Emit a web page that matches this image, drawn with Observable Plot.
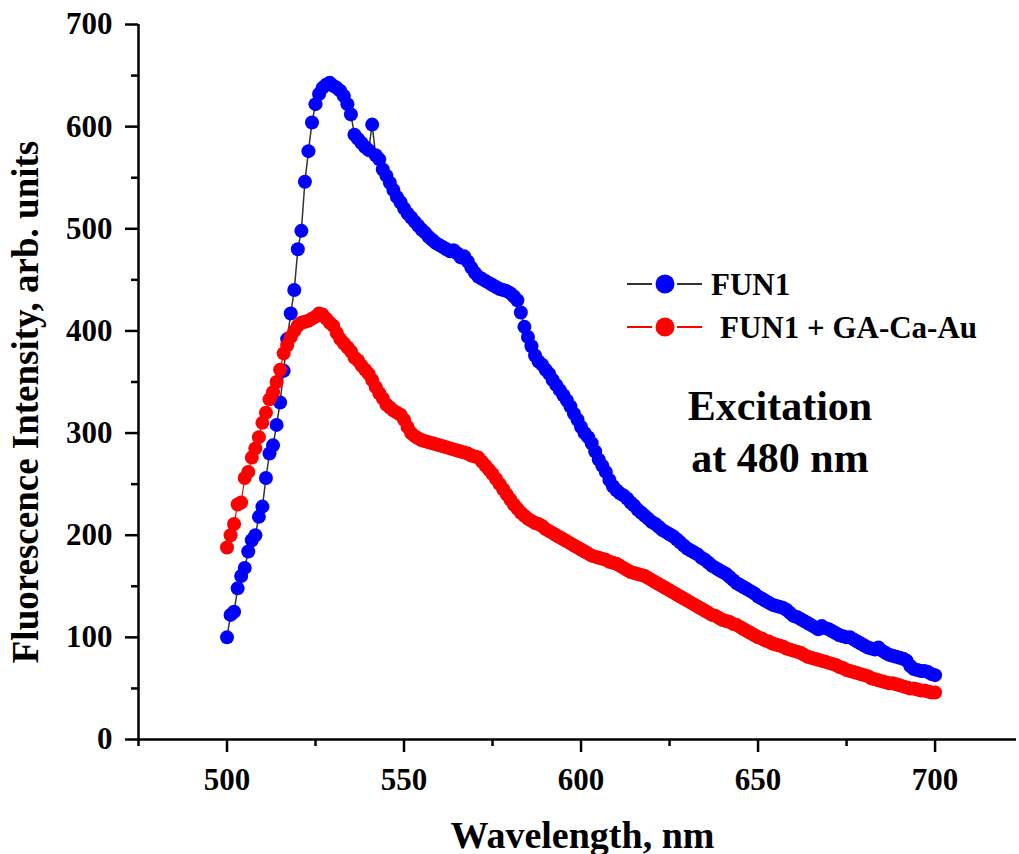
<!DOCTYPE html>
<html>
<head>
<meta charset="utf-8">
<script src="https://cdn.jsdelivr.net/npm/d3@7"></script>
<script src="https://cdn.jsdelivr.net/npm/@observablehq/plot@0.6"></script>
<style>
  html, body { margin: 0; padding: 0; background: #fff; }
  #wrap { position: relative; width: 1019px; height: 854px; overflow: hidden; }
  #wrap svg.overlay { position: absolute; left: 0; top: 0; pointer-events: none; }
  text { font-family: "Liberation Serif", "Times New Roman", serif; font-weight: bold; }
</style>
</head>
<body>
<div id="wrap"></div>
<script>
// ---- data ----
const wavelength = [
  500,501,502,503,504,505,506,507,508,509,
  510,511,512,513,514,515,516,517,518,519,
  520,521,522,523,524,525,526,527,528,529,
  530,531,532,533,534,535,536,537,538,539,
  540,541,542,543,544,545,546,547,548,549,
  550,551,552,553,554,555,556,557,558,559,
  560,561,562,563,564,565,566,567,568,569,
  570,571,572,573,574,575,576,577,578,579,
  580,581,582,583,584,585,586,587,588,589,
  590,591,592,593,594,595,596,597,598,599,
  600,601,602,603,604,605,606,607,608,609,
  610,611,612,613,614,615,616,617,618,619,
  620,621,622,623,624,625,626,627,628,629,
  630,631,632,633,634,635,636,637,638,639,
  640,641,642,643,644,645,646,647,648,649,
  650,651,652,653,654,655,656,657,658,659,
  660,661,662,663,664,665,666,667,668,669,
  670,671,672,673,674,675,676,677,678,679,
  680,681,682,683,684,685,686,687,688,689,
  690,691,692,693,694,695,696,697,698,699,
  700
];
const fun1 = [
  100,122,125,148,160,168,184,195,200,218,
  228,256,280,288,308,330,361,392,417,440,
  480,498,546,576,604,622,632,638,641,643,
  640,638,635,630,622,612,592,588,584,580,
  577,602,572,568,558,552,545,538,531,526,
  520,515,511,507,503,499,496,492,489,486,
  484,482,480,478,479,476,472,473,468,462,
  457,453,451,449,447,445,443,441,440,439,
  437,434,430,418,404,394,385,376,370,367,
  362,358,352,347,342,337,332,326,319,313,
  306,300,296,290,282,274,268,262,254,248,
  244,241,239,236,232,229,225,222,219,216,
  213,211,208,205,203,201,199,196,193,190,
  187,185,183,181,178,176,173,170,168,166,
  164,162,159,156,153,151,149,147,145,143,
  140,138,136,134,132,131,130,129,127,124,
  121,120,118,116,114,112,110,108,111,109,
  108,106,104,102,101,100,100,98,96,94,
  92,90,89,88,90,87,85,83,82,81,
  80,79,77,72,69,68,67,67,66,64,
  63
];
const fun1GaCaAu = [
  188,200,211,230,232,256,262,276,285,296,
  310,320,333,340,350,362,378,386,394,400,
  405,408,409,410,412,414,417,416,412,408,
  405,398,392,388,384,380,374,371,366,362,
  358,352,345,339,334,328,325,322,320,318,
  313,306,300,297,295,293,292,291,290,289,
  288,287,286,285,284,283,282,281,280,278,
  277,276,272,268,264,260,255,250,245,240,
  235,230,226,222,219,216,214,212,211,209,
  206,204,202,200,198,196,194,192,190,188,
  186,184,182,180,179,178,177,176,174,173,
  172,170,168,166,164,163,162,161,160,158,
  156,154,152,150,148,146,144,142,140,138,
  136,134,132,130,128,126,124,122,121,119,
  117,116,115,113,112,110,108,106,104,102,
  100,99,97,96,94,93,92,91,89,88,
  87,86,85,83,81,80,79,78,77,76,
  75,74,73,71,70,68,67,66,65,64,
  63,62,60,59,58,57,56,55,55,54,
  53,52,51,50,50,49,48,48,47,46,
  46
];
const seriesNames = ["FUN1", "FUN1 + GA-Ca-Au"];
const seriesColors = ["#0000ff", "#ff0000"];
const lineColors = ["#333333", "#ff0000"];
const xMajorTicks = [500, 550, 600, 650, 700];
const xMinorTicks = [475, 525, 575, 625, 675];
const yMajorTicks = [0, 100, 200, 300, 400, 500, 600, 700];
const yMinorTicks = [50, 150, 250, 350, 450, 550, 650];
const xDomain = [475, 723];
const yDomain = [0, 700];
const xTitle = "Wavelength, nm";
const yTitle = "Fluorescence Intensity, arb. units";
const noteLines = ["Excitation", "at 480 nm"];

const blue = wavelength.map((w, i) => ({w, v: fun1[i]}));
const red = wavelength.map((w, i) => ({w, v: fun1GaCaAu[i]}));

const FONT = "'Liberation Serif', 'Times New Roman', serif";

const chart = Plot.plot({
  width: 1019,
  height: 854,
  marginLeft: 138,
  marginRight: 3,
  marginTop: 24,
  marginBottom: 115,
  x: {domain: xDomain},
  y: {domain: yDomain},
  style: {fontFamily: FONT, fontWeight: "bold", background: "white", color: "black", overflow: "visible"},
  marks: [
    Plot.axisX(xMajorTicks, {tickSize: 13, tickPadding: 15, fontSize: 31, strokeWidth: 2.5, label: null, tickFormat: d => String(d)}),
    Plot.axisX(xMinorTicks, {tickSize: 7, fill: "none", strokeWidth: 2.5, label: null}),
    Plot.axisY(yMajorTicks, {tickSize: 13, tickPadding: 13, fontSize: 31, strokeWidth: 2.5, label: null, tickFormat: d => String(d)}),
    Plot.axisY(yMinorTicks, {tickSize: 7, fill: "none", strokeWidth: 2.5, label: null}),
    Plot.ruleX([xDomain[0]], {strokeWidth: 2.5}),
    Plot.ruleY([yDomain[0]], {strokeWidth: 2.5}),
    Plot.line(blue, {x: "w", y: "v", stroke: lineColors[0], strokeWidth: 1.5}),
    Plot.dot(blue, {x: "w", y: "v", r: 7, fill: seriesColors[0], stroke: "none"}),
    Plot.line(red, {x: "w", y: "v", stroke: lineColors[1], strokeWidth: 1.2}),
    Plot.dot(red, {x: "w", y: "v", r: 7, fill: seriesColors[1], stroke: "none"}),
    Plot.text([xTitle], {frameAnchor: "bottom", textAnchor: "middle", dx: 5, dy: 108, fontSize: 38, fontWeight: "bold", lineAnchor: "bottom"}),
    Plot.text([yTitle], {frameAnchor: "left", textAnchor: "middle", dx: -112, dy: 20, rotate: -90, fontSize: 37, fontWeight: "bold"})
  ]
});

const wrap = document.getElementById("wrap");
wrap.appendChild(chart);

// legend + annotation overlay
const ov = d3.select(wrap).append("svg")
  .attr("class", "overlay")
  .attr("width", 1019).attr("height", 854);

const legendRows = [
  {y: 284, textX: 711},
  {y: 327, textX: 720}
];
seriesNames.forEach((name, i) => {
  const r = legendRows[i];
  const g = ov.append("g");
  g.append("line").attr("x1", 627).attr("x2", 652).attr("y1", r.y).attr("y2", r.y)
    .attr("stroke", lineColors[i]).attr("stroke-width", 2);
  g.append("line").attr("x1", 677).attr("x2", 702).attr("y1", r.y).attr("y2", r.y)
    .attr("stroke", lineColors[i]).attr("stroke-width", 2);
  g.append("circle").attr("cx", 665).attr("cy", r.y).attr("r", 9.5).attr("fill", seriesColors[i]);
  g.append("text").attr("x", r.textX).attr("y", r.y).attr("dy", "0.34em")
    .attr("font-size", 31).attr("font-family", FONT).attr("font-weight", "bold")
    .text(name);
});

noteLines.forEach((t, i) => {
  ov.append("text").attr("x", 780).attr("y", 420 + i * 52)
    .attr("text-anchor", "middle").attr("font-size", 42)
    .attr("font-family", FONT).attr("font-weight", "bold")
    .text(t);
});
</script>
</body>
</html>
